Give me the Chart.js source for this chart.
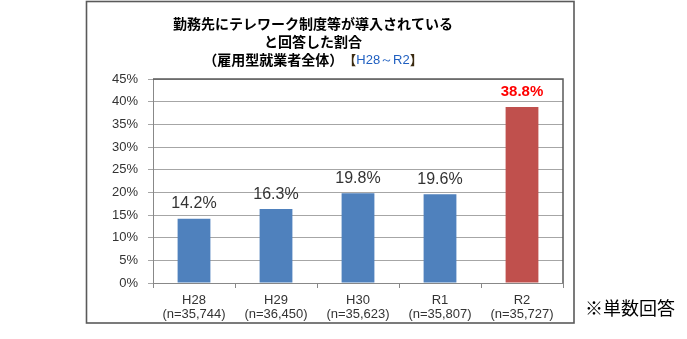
<!DOCTYPE html>
<html>
<head>
<meta charset="utf-8">
<script src="https://cdn.jsdelivr.net/npm/chart.js@4"></script>
<style>
  html, body { margin: 0; padding: 0; background: #fff; }
  #wrap { width: 687px; height: 339px; position: relative; }
</style>
</head>
<body>
<div id="wrap"><canvas id="bar-chart"></canvas></div>
<script>
const categories = ['H28', 'H29', 'H30', 'R1', 'R2'];
const sampleSizes = ['(n=35,744)', '(n=36,450)', '(n=35,623)', '(n=35,807)', '(n=35,727)'];
const rates = [14.2, 16.3, 19.8, 19.6, 38.8];
const titleLines = ['勤務先にテレワーク制度等が導入されている', 'と回答した割合'];
const titleSub = '（雇用型就業者全体）';
const titlePeriod = 'H28～R2';
const footNote = '※単数回答';

const BLUE = '#4F81BD';
const RED = '#C0504D';
const JP = '"Noto Sans CJK JP", sans-serif';
const LAT = '"Liberation Sans", Arial, sans-serif';

// frame, title and note
const decorPlugin = {
    id: 'decor',
    beforeDraw(chart) {
        const ctx = chart.ctx;
        ctx.save();
        ctx.fillStyle = '#fff';
        ctx.fillRect(0, 0, chart.width, chart.height);
        ctx.restore();
    },
    afterDraw(chart) {
        const ctx = chart.ctx;
        const a = chart.chartArea;
        ctx.save();
        // plot border top/right
        ctx.strokeStyle = '#595959';
        ctx.lineWidth = 1.5;
        ctx.beginPath();
        ctx.moveTo(a.left, a.top);
        ctx.lineTo(a.right, a.top);
        ctx.lineTo(a.right, a.bottom);
        ctx.stroke();
        // outer frame
        ctx.strokeStyle = '#5a5a5a';
        ctx.lineWidth = 1.6;
        ctx.strokeRect(86.5, 1.5, 487.5, 321.5);

        // title
        const cx = 313;
        ctx.fillStyle = '#000';
        ctx.textBaseline = 'middle';
        ctx.textAlign = 'center';
        ctx.font = 'bold 14px ' + JP;
        ctx.fillText(titleLines[0], cx, 24);
        ctx.fillText(titleLines[1], cx, 42);

        // third line, mixed style
        ctx.textAlign = 'left';
        const partA = titleSub;
        const fA = 'bold 14px ' + JP;
        const fB = 'bold 13px ' + JP;
        const fC = '13px ' + LAT;
        ctx.font = fA; const wA = ctx.measureText(partA).width;
        ctx.font = fB; const wO = ctx.measureText('【').width, wE = ctx.measureText('】').width;
        ctx.font = fC; const wP = ctx.measureText(titlePeriod).width;
        let x = cx - (wA + wO + wP + wE) / 2;
        const y3 = 60;
        ctx.font = fA; ctx.fillStyle = '#000'; ctx.fillText(partA, x, y3); x += wA;
        ctx.font = fB; ctx.fillStyle = '#3a2a10'; ctx.fillText('【', x, y3); x += wO;
        ctx.font = fC; ctx.fillStyle = '#1F5FC0'; ctx.fillText(titlePeriod, x, y3); x += wP;
        ctx.font = fB; ctx.fillStyle = '#3a2a10'; ctx.fillText('】', x, y3);

        // note
        ctx.fillStyle = '#000';
        ctx.font = '18px ' + JP;
        ctx.fillText(footNote, 585, 308);
        ctx.restore();
    }
};

// value labels above bars
const valueLabels = {
    id: 'valueLabels',
    afterDatasetsDraw(chart) {
        const ctx = chart.ctx;
        const meta = chart.getDatasetMeta(0);
        ctx.save();
        ctx.textAlign = 'center';
        ctx.textBaseline = 'middle';
        meta.data.forEach((bar, i) => {
            const last = i === rates.length - 1;
            ctx.fillStyle = last ? '#FF0000' : '#333';
            ctx.font = last ? 'bold 15px ' + LAT : '16px "Liberation Sans Narrow", ' + LAT;
            ctx.fillText(rates[i].toFixed(1) + '%', bar.x, bar.y - 15);
        });
        ctx.restore();
    }
};

const data = {
    labels: categories.map((c, i) => [c, sampleSizes[i]]),
    datasets: [{
        data: rates,
        backgroundColor: rates.map((v, i) => i === rates.length - 1 ? RED : BLUE),
        borderWidth: 0,
        categoryPercentage: 1,
        barPercentage: 0.4
    }]
};

const config = {
    type: 'bar',
    data: data,
    options: {
        responsive: false,
        animation: false,
        layout: { padding: { left: 0, right: 124, top: 79, bottom: 0 } },
        plugins: {
            legend: { display: false },
            tooltip: { enabled: false },
            title: { display: false }
        },
        scales: {
            x: {
                grid: { display: true, drawOnChartArea: false, offset: true, tickLength: 5, color: '#888' },
                border: { color: '#888' },
                ticks: {
                    color: '#333',
                    padding: 6,
                    font: { family: LAT, size: 13, lineHeight: 1.05 }
                },
                afterFit(scale) { scale.height = 56; }
            },
            y: {
                min: 0,
                max: 45,
                grid: { color: '#A6A6A6', tickLength: 5 },
                border: { color: '#888' },
                ticks: {
                    stepSize: 5,
                    color: '#333',
                    padding: 10,
                    font: { family: LAT, size: 13 },
                    callback: v => v + '%'
                },
                afterFit(scale) { scale.width = 153; }
            }
        }
    },
    plugins: [decorPlugin, valueLabels]
};

const canvas = document.getElementById('bar-chart');
canvas.width = 687;
canvas.height = 339;
const myChart = new Chart(canvas, config);
</script>
</body>
</html>
